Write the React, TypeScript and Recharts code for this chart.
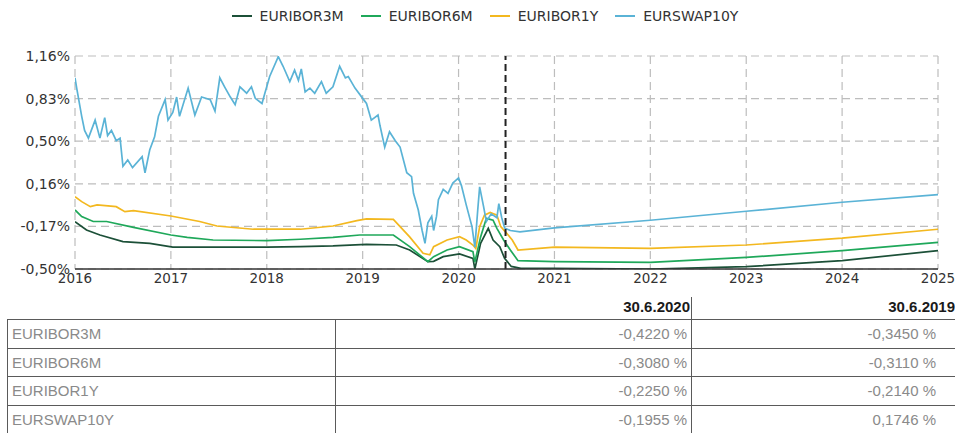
import React from 'react';
import { LineChart, Line, XAxis, YAxis, CartesianGrid, ReferenceLine } from 'recharts';

// [year, %] points
const euribor3m: [number, number][] = [
  [2016.0, -0.131], [2016.12, -0.196], [2016.26, -0.235], [2016.5, -0.287], [2016.78, -0.3],
  [2017.02, -0.33], [2017.44, -0.33], [2018.0, -0.33], [2018.35, -0.326], [2018.69, -0.32],
  [2019.04, -0.308], [2019.35, -0.313], [2019.49, -0.352], [2019.68, -0.443], [2019.74, -0.44],
  [2019.84, -0.404], [2020.01, -0.383], [2020.15, -0.417], [2020.17, -0.5], [2020.23, -0.3],
  [2020.31, -0.183], [2020.36, -0.274], [2020.43, -0.326], [2020.48, -0.417], [2020.55, -0.48],
  [2020.65, -0.495], [2021.0, -0.494], [2022.0, -0.5], [2023.0, -0.482], [2024.0, -0.435],
  [2025.0, -0.357],
];

const euribor6m: [number, number][] = [
  [2016.0, -0.04], [2016.07, -0.092], [2016.19, -0.13], [2016.33, -0.13], [2016.61, -0.175],
  [2017.0, -0.235], [2017.17, -0.253], [2017.44, -0.274], [2018.0, -0.279], [2018.35, -0.268],
  [2018.69, -0.253], [2018.97, -0.235], [2019.32, -0.235], [2019.49, -0.326], [2019.68, -0.443],
  [2019.74, -0.404], [2019.88, -0.352], [2020.01, -0.326], [2020.15, -0.365], [2020.17, -0.446],
  [2020.23, -0.25], [2020.29, -0.105], [2020.36, -0.12], [2020.4, -0.183], [2020.47, -0.274],
  [2020.54, -0.352], [2020.62, -0.435], [2021.0, -0.443], [2022.0, -0.448], [2023.0, -0.41],
  [2024.0, -0.357], [2025.0, -0.292],
];

const euribor1y: [number, number][] = [
  [2016.0, 0.063], [2016.07, 0.025], [2016.16, -0.014], [2016.23, -0.001], [2016.43, -0.014],
  [2016.52, -0.053], [2016.61, -0.045], [2017.0, -0.087], [2017.3, -0.13], [2017.48, -0.165],
  [2017.86, -0.19], [2018.35, -0.19], [2018.69, -0.165], [2018.94, -0.123], [2019.04, -0.11],
  [2019.32, -0.113], [2019.49, -0.25], [2019.63, -0.378], [2019.7, -0.39], [2019.74, -0.326],
  [2019.88, -0.274], [2020.01, -0.248], [2020.08, -0.274], [2020.15, -0.313], [2020.18, -0.34],
  [2020.22, -0.17], [2020.27, -0.08], [2020.33, -0.06], [2020.4, -0.08], [2020.44, -0.17],
  [2020.5, -0.22], [2020.56, -0.274], [2020.62, -0.352], [2021.0, -0.33], [2022.0, -0.34],
  [2023.0, -0.313], [2024.0, -0.26], [2025.0, -0.19],
];

const eurswap10y: [number, number][] = [
  [2016.0, 0.99], [2016.02, 0.9], [2016.07, 0.69], [2016.1, 0.58], [2016.14, 0.52],
  [2016.21, 0.66], [2016.26, 0.52], [2016.31, 0.68], [2016.34, 0.54], [2016.38, 0.58],
  [2016.43, 0.5], [2016.47, 0.52], [2016.5, 0.3], [2016.55, 0.35], [2016.6, 0.29],
  [2016.7, 0.375], [2016.73, 0.25], [2016.78, 0.43], [2016.83, 0.53], [2016.87, 0.69],
  [2016.94, 0.82], [2016.97, 0.66], [2017.02, 0.72], [2017.06, 0.84], [2017.09, 0.69],
  [2017.18, 0.91], [2017.25, 0.7], [2017.32, 0.84], [2017.41, 0.82], [2017.46, 0.73],
  [2017.51, 0.99], [2017.56, 0.92], [2017.62, 0.84], [2017.67, 0.78], [2017.72, 0.92],
  [2017.79, 0.87], [2017.84, 0.92], [2017.88, 0.83], [2017.95, 0.79], [2017.98, 0.87],
  [2018.03, 1.0], [2018.12, 1.155], [2018.17, 1.08], [2018.24, 0.96], [2018.29, 1.05],
  [2018.33, 0.97], [2018.36, 1.06], [2018.4, 0.88], [2018.45, 0.91], [2018.5, 0.87],
  [2018.57, 0.96], [2018.62, 0.87], [2018.69, 0.92], [2018.76, 1.08], [2018.82, 0.99],
  [2018.85, 1.0], [2018.92, 0.91], [2019.01, 0.82], [2019.04, 0.79], [2019.09, 0.66],
  [2019.16, 0.7], [2019.18, 0.62], [2019.23, 0.45], [2019.28, 0.57], [2019.34, 0.5],
  [2019.39, 0.45], [2019.46, 0.25], [2019.51, 0.22], [2019.53, 0.09], [2019.58, -0.04],
  [2019.62, -0.2], [2019.65, -0.3], [2019.68, -0.14], [2019.72, -0.09], [2019.74, -0.2],
  [2019.77, -0.09], [2019.79, 0.04], [2019.84, 0.12], [2019.89, 0.09], [2019.94, 0.17],
  [2020.0, 0.21], [2020.03, 0.15], [2020.08, 0.0], [2020.14, -0.17], [2020.17, -0.33],
  [2020.2, -0.04], [2020.22, 0.14], [2020.26, -0.01], [2020.29, -0.13], [2020.34, -0.07],
  [2020.4, -0.1], [2020.42, 0.01], [2020.45, -0.1], [2020.48, -0.18], [2020.54, -0.2],
  [2020.64, -0.21], [2021.0, -0.18], [2022.0, -0.12], [2023.0, -0.05], [2024.0, 0.02],
  [2025.0, 0.08],
];

const years = [2016, 2017, 2018, 2019, 2020, 2021, 2022, 2023, 2024, 2025];
const yTicks = [-0.5, -0.168, 0.164, 0.496, 0.828, 1.16];
const reportDate = 2020.49;

const series = [
  { key: 'EURIBOR3M', points: euribor3m, color: '#1c5038' },
  { key: 'EURIBOR6M', points: euribor6m, color: '#1fa85a' },
  { key: 'EURIBOR1Y', points: euribor1y, color: '#f3b81f' },
  { key: 'EURSWAP10Y', points: eurswap10y, color: '#5ab3d6' },
];

// table
const tableDates = ['30.6.2020', '30.6.2019'];
const tableRows = [
  { name: 'EURIBOR3M', values: ['-0,4220 %', '-0,3450 %'] },
  { name: 'EURIBOR6M', values: ['-0,3080 %', '-0,3110 %'] },
  { name: 'EURIBOR1Y', values: ['-0,2250 %', '-0,2140 %'] },
  { name: 'EURSWAP10Y', values: ['-0,1955 %', '0,1746 %'] },
];

// merge all series onto one time axis
const byTime = new Map<number, any>();
series.forEach((s) => {
  s.points.forEach(([t, v]) => {
    const row = byTime.get(t) || { t };
    row[s.key] = v;
    byTime.set(t, row);
  });
});
const data = Array.from(byTime.values()).sort((a, b) => a.t - b.t);

const fmtPct = (v: number) => v.toFixed(2).replace('.', ',') + '%';

const font = 'DejaVu Sans, sans-serif';
const tableFont = '"Liberation Sans", sans-serif';
const lineBorder = '1px solid #5a5a5a';

export default function App() {
  return (
    <div style={{ position: 'absolute', left: 0, top: 0, width: 955, height: 433, background: '#fff', overflow: 'hidden' }}>
      {/* legend */}
      <div style={{ position: 'absolute', top: 8, left: 0, width: 955, display: 'flex', justifyContent: 'center', gap: 17, fontFamily: font, fontSize: 14, color: '#333', paddingLeft: 15, boxSizing: 'border-box' }}>
        {series.map((s) => (
          <div key={s.key} style={{ display: 'flex', alignItems: 'center', gap: 8 }}>
            <div style={{ width: 20, height: 2, background: s.color }} />
            <span>{s.key}</span>
          </div>
        ))}
      </div>

      <div style={{ position: 'absolute', top: 0, left: 0 }}>
        <LineChart width={955} height={290} data={data} margin={{ top: 56, right: 17, left: 0, bottom: 0 }}>
          <CartesianGrid stroke="#bdbdbd" strokeDasharray="8 5" strokeWidth={1.2} />
          <XAxis
            dataKey="t"
            type="number"
            domain={[2016, 2025]}
            ticks={years}
            height={21}
            tickLine={false}
            tickSize={0}
            tickMargin={4}
            axisLine={{ stroke: '#333', strokeWidth: 1.5 }}
            tick={{ fontFamily: font, fontSize: 13.5, fill: '#333' }}
            allowDataOverflow
          />
          <YAxis
            type="number"
            domain={[-0.5, 1.16]}
            ticks={yTicks}
            width={75}
            tickLine={false}
            axisLine={false}
            tickSize={0}
            tickMargin={5}
            tickFormatter={fmtPct}
            tick={{ fontFamily: font, fontSize: 14, fill: '#333' }}
            allowDataOverflow
          />
          {series.map((s) => (
            <Line
              key={s.key}
              dataKey={s.key}
              stroke={s.color}
              strokeWidth={1.7}
              dot={false}
              connectNulls
              isAnimationActive={false}
              type="linear"
            />
          ))}
          <ReferenceLine x={reportDate} stroke="#222" strokeWidth={2} strokeDasharray="7 4" />
        </LineChart>
      </div>

      {/* table */}
      <div style={{ position: 'absolute', top: 297, left: 0, width: 1000, fontFamily: tableFont, fontSize: 15 }}>
        <div style={{ display: 'flex', height: 22 }}>
          <div style={{ width: 336 }} />
          <div style={{ width: 356, textAlign: 'right', fontWeight: 'bold', color: '#1a1a1a', borderRight: lineBorder, paddingRight: 1, boxSizing: 'border-box', lineHeight: '20px' }}>
            {tableDates[0]}
          </div>
          <div style={{ width: 263, textAlign: 'right', fontWeight: 'bold', color: '#1a1a1a', lineHeight: '20px' }}>
            {tableDates[1]}
          </div>
        </div>
        {tableRows.map((r) => (
          <div key={r.name} style={{ display: 'flex', height: 28.5, borderTop: lineBorder, boxSizing: 'border-box', marginLeft: 7, width: 1000, color: '#8a8a8a', lineHeight: '27px' }}>
            <div style={{ width: 329, borderLeft: lineBorder, borderRight: lineBorder, paddingLeft: 4, boxSizing: 'border-box' }}>{r.name}</div>
            <div style={{ width: 356, borderRight: lineBorder, textAlign: 'right', paddingRight: 4, boxSizing: 'border-box' }}>{r.values[0]}</div>
            <div style={{ width: 244, textAlign: 'right', boxSizing: 'border-box' }}>{r.values[1]}</div>
          </div>
        ))}
      </div>
    </div>
  );
}
